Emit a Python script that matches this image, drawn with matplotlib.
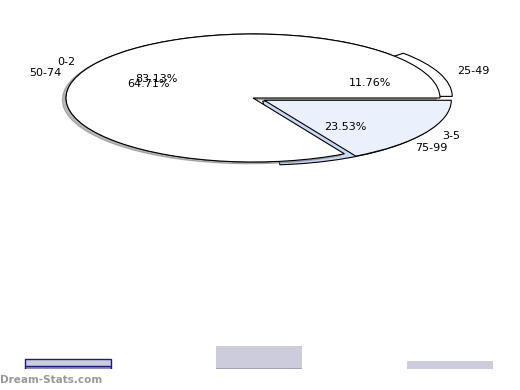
import matplotlib
matplotlib.use('Agg')
import matplotlib.pyplot as plt
from matplotlib.patches import Shadow

# inner pie (drawn on top)
labels_a = ['0-2', '3-5']
values_a = [83.13, 16.87]
colors_a = ['white', '#eaf1fd']
explode_a = [0.0, 0.07]

# outer pie (drawn underneath, slightly exploded)
labels_b = ['25-49', '50-74', '75-99']
values_b = [11.76, 64.71, 23.53]
colors_b = ['white', 'white', '#c9d9f7']
explode_b = [0.07, 0.0, 0.07]

# cropped bars at the bottom
bar_pos = [0, 1, 2]
bar_vals = [10, 23, 8]

fig = plt.figure(figsize=(5.2, 3.9), dpi=100)

ax = fig.add_axes([0, 0, 1, 1])
ax.pie(values_b, labels=labels_b, colors=colors_b, explode=explode_b,
       autopct='%.2f%%', startangle=0, counterclock=True,
       wedgeprops=dict(edgecolor='black', linewidth=0.8, zorder=1),
       textprops=dict(fontsize=8))
wedges_a, _, _ = ax.pie(values_a, labels=labels_a, colors=colors_a, explode=explode_a,
                        autopct=lambda p: f'{p:.2f}%' if p > 50 else '',
                        startangle=0, counterclock=True,
                        wedgeprops=dict(edgecolor='black', linewidth=0.8, zorder=2),
                        textprops=dict(fontsize=8))
# shadow only under the big wedge
sh = Shadow(wedges_a[0], -0.014, -0.02, shade=0.55)
sh.set_zorder(1.5)
ax.add_patch(sh)

ax.set_aspect('auto')
# ellipse: 187 px wide radius, 64 px tall radius, centre at (253, 98)
ax.set_xlim(-253 / 187, (520 - 253) / 187)
ax.set_ylim(-(390 - 98) / 64, 98 / 64)
ax.axis('off')

ax2 = fig.add_axes([0, 21 / 390, 1, 60 / 390])
ax2.bar(bar_pos[0], 3, width=0.45, color='#a8a8d0', edgecolor='#1a1a80', linewidth=1)
ax2.bar(bar_pos[0], bar_vals[0] - 3, bottom=3, width=0.45, color='#ccccdd',
        edgecolor='#1a1a80', linewidth=1)
ax2.bar(bar_pos[1:], bar_vals[1:], width=0.45, color='#ccccdd', linewidth=0)
ax2.hlines(0.5, bar_pos[1] - 0.225, bar_pos[1] + 0.225, color='#9999cc', linewidth=1.2)
ax2.set_xlim(-68 / 191, -68 / 191 + 520 / 191)
ax2.set_ylim(0, 60)
ax2.axis('off')

fig.text(0.0, 10 / 390, 'Dream-Stats.com', color='#999999', fontsize=7.5,
         fontweight='bold', ha='left', va='center')

fig.savefig('out.png', dpi=100)
